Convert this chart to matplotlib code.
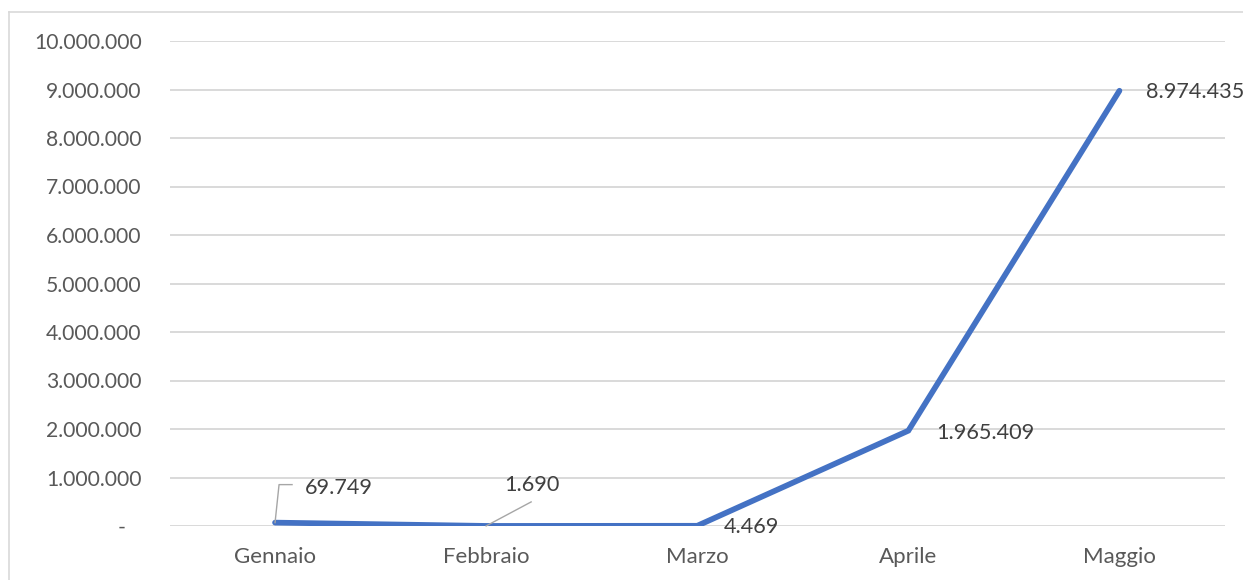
import matplotlib
matplotlib.use("Agg")
import matplotlib.pyplot as plt
from matplotlib.transforms import Affine2D, ScaledTranslation
from matplotlib.lines import Line2D

months = ["Gennaio", "Febbraio", "Marzo", "Aprile", "Maggio"]
values = [69749, 1690, 4469, 1965409, 8974435]
value_labels = ["69.749", "1.690", "4.469", "1.965.409", "8.974.435"]
yticks = [0, 1000000, 2000000, 3000000, 4000000, 5000000, 6000000, 7000000, 8000000, 9000000, 10000000]
ytick_labels = ["-   ", "1.000.000", "2.000.000", "3.000.000", "4.000.000", "5.000.000",
                "6.000.000", "7.000.000", "8.000.000", "9.000.000", "10.000.000"]

plt.rcParams['font.family'] = ['Lato', 'DejaVu Sans']

W, H = 1243, 580
fig = plt.figure(figsize=(W / 100, H / 100), dpi=100)
ax = fig.add_axes([169.5 / W, 1 - 526 / H, (1225 - 169.5) / W, (526 - 41) / H])

x = list(range(len(months)))
ax.plot(x, values, color="#4472C4", lw=4.1, solid_capstyle="round", solid_joinstyle="miter", zorder=3)

ax.set_xlim(-0.5, len(months) - 0.5)
ax.set_ylim(0, 10000000)
ax.set_yticks(yticks)
ax.set_yticklabels(ytick_labels)
ax.set_xticks(x)
ax.set_xticklabels(months, fontsize=16)
ax.tick_params(axis="both", length=0, labelcolor="#595959")
ax.tick_params(axis="y", pad=20, labelsize=15.2)
ax.tick_params(axis="x", pad=15)
ax.grid(axis="y", color="#D9D9D9", lw=1.4)
ax.set_axisbelow(True)
for s in ax.spines.values():
    s.set_visible(False)

# data labels: offsets in pixels (x right, y up) from each point
label_offsets = [(30, 35), (46, 41), (27, -1), (28, -2), (27, -1)]
label_ha = ["left", "center", "left", "left", "left"]
for xi, v, lab, (dx, dy), ha in zip(x, values, value_labels, label_offsets, label_ha):
    ax.annotate(lab, (xi, v), xytext=(dx * 0.72, dy * 0.72), textcoords="offset points",
                ha=ha, va="center", fontsize=15.6, color="#404040", zorder=4)

def leader(xi, v, pts_px):
    tr = Affine2D().scale(1.0) + ScaledTranslation(xi, v, ax.transData)
    xs = [p[0] * fig.dpi / 100 for p in pts_px]
    ys = [p[1] * fig.dpi / 100 for p in pts_px]
    ln = Line2D(xs, ys, transform=tr, color="#A6A6A6", lw=1.0, zorder=4)
    fig.add_artist(ln)

leader(x[0], values[0], [(0, 0), (4, 38), (17, 38)])
leader(x[1], values[1], [(0, 0), (45, 24)])

# chart frame (partially visible)
fig.add_artist(Line2D([8.5 / W, 8.5 / W], [0, 1 - 11.5 / H], transform=fig.transFigure, color="#D9D9D9", lw=1.2))
fig.add_artist(Line2D([8.5 / W, 1], [1 - 11.5 / H, 1 - 11.5 / H], transform=fig.transFigure, color="#D9D9D9", lw=1.2))

fig.savefig("out.png", dpi=100, facecolor="white")
